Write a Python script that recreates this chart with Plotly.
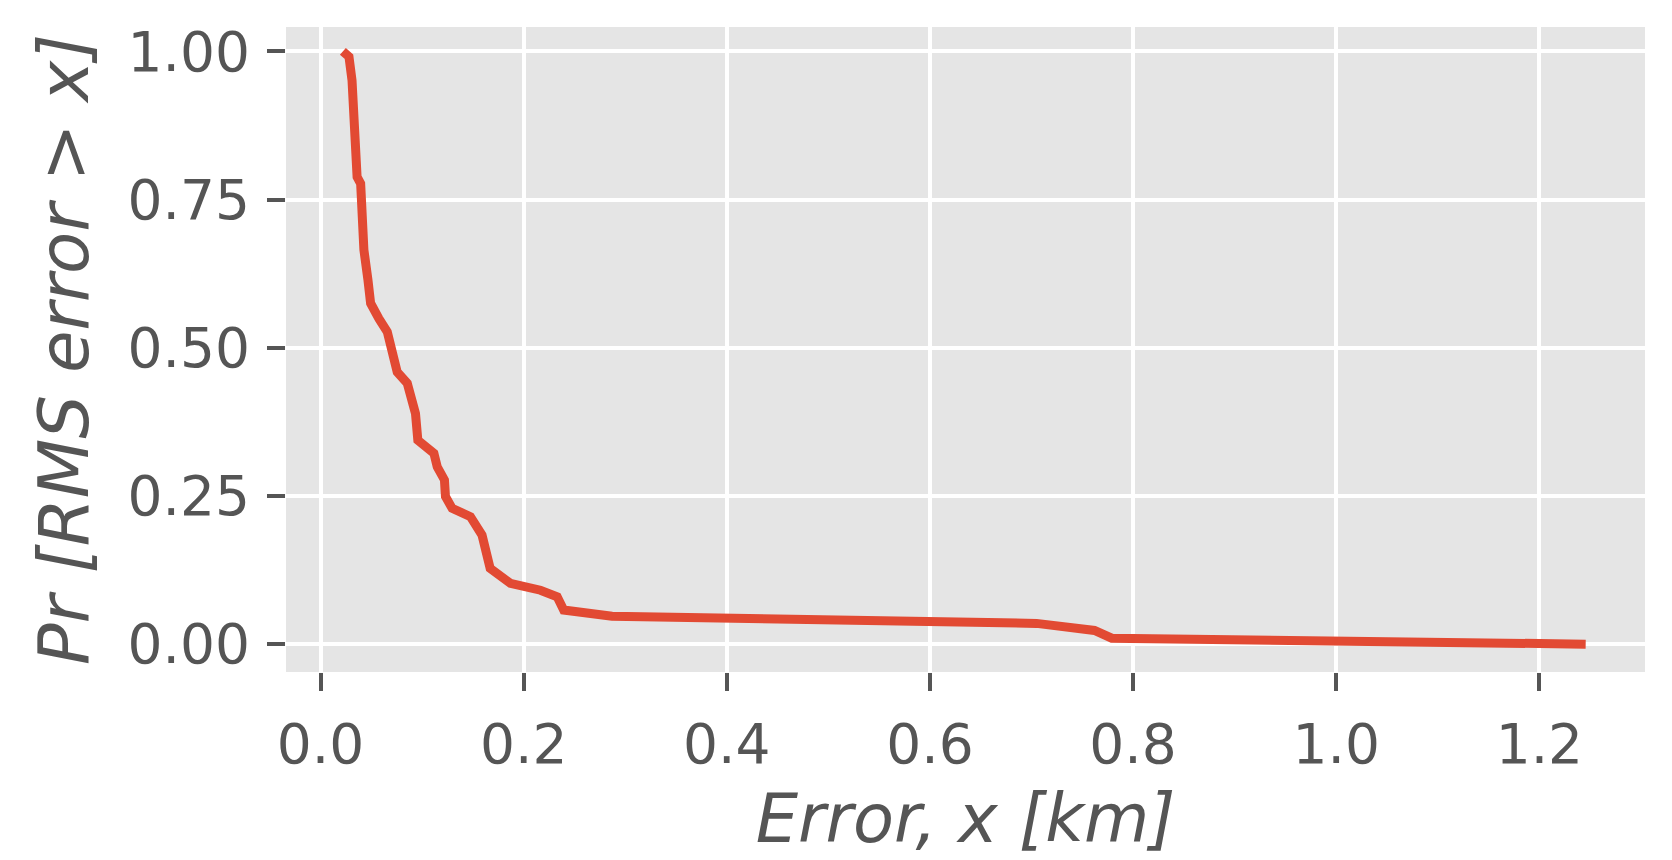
import plotly.graph_objects as go

# Data (exceedance curve)
error_km = [0.022, 0.028, 0.031, 0.0346, 0.036, 0.0395, 0.041, 0.0427, 0.0467, 0.0493,
            0.0575, 0.0657, 0.0755, 0.0854, 0.0935, 0.0958, 0.1116, 0.1149, 0.122, 0.123,
            0.1296, 0.1476, 0.159, 0.162, 0.167, 0.187, 0.2165, 0.233, 0.238, 0.2394,
            0.287, 0.705, 0.762, 0.779, 1.2456]
prob_exceed = [1.0, 0.991, 0.951, 0.856, 0.788, 0.777, 0.704, 0.665, 0.614, 0.575,
               0.549, 0.527, 0.459, 0.44, 0.389, 0.344, 0.322, 0.299, 0.277, 0.249,
               0.229, 0.215, 0.184, 0.164, 0.128, 0.1025, 0.091, 0.080, 0.066, 0.0575,
               0.047, 0.035, 0.023, 0.010, 0.0]

x_ticks = [0.0, 0.2, 0.4, 0.6, 0.8, 1.0, 1.2]
x_tick_labels = ["0.0", "0.2", "0.4", "0.6", "0.8", "1.0", "1.2"]
y_ticks = [0.0, 0.25, 0.5, 0.75, 1.0]
y_tick_labels = ["0.00", "0.25", "0.50", "0.75", "1.00"]
x_range = [-0.034, 1.304]
y_range = [-0.047, 1.041]

TXT = "#555555"
FONT = "DejaVu Sans"

fig = go.Figure()
fig.add_trace(go.Scatter(
    x=error_km, y=prob_exceed, mode="lines",
    line=dict(color="#E24A33", width=9),
    showlegend=False, hoverinfo="skip",
))

fig.update_layout(
    width=1672, height=860,
    margin=dict(l=286, r=27, t=27, b=188, autoexpand=False),
    paper_bgcolor="white",
    plot_bgcolor="#E5E5E5",
    font=dict(family=FONT, color=TXT),
)

fig.update_xaxes(
    range=x_range,
    tickvals=x_ticks, ticktext=x_tick_labels,
    showgrid=True, gridcolor="white", gridwidth=3.5,
    zeroline=False, showline=False,
    ticks="outside", ticklen=18, tickwidth=3.5, tickcolor=TXT,
    tickfont=dict(family=FONT, size=55, color=TXT),
    ticklabelstandoff=6,
    title=dict(text="<i>Error, x [km]</i>",
               font=dict(family=FONT, size=67, color=TXT), standoff=20),
    automargin=False,
)
fig.update_yaxes(
    range=y_range,
    tickvals=y_ticks, ticktext=y_tick_labels,
    showgrid=True, gridcolor="white", gridwidth=3.5,
    zeroline=False, showline=False,
    ticks="outside", ticklen=18, tickwidth=3.5, tickcolor=TXT,
    tickfont=dict(family=FONT, size=55, color=TXT),
    ticklabelstandoff=6,
    title=dict(text="<i>Pr [RMS error > x]</i>",
               font=dict(family=FONT, size=69, color=TXT), standoff=16),
    automargin=False,
)

fig.write_html("out.html")
